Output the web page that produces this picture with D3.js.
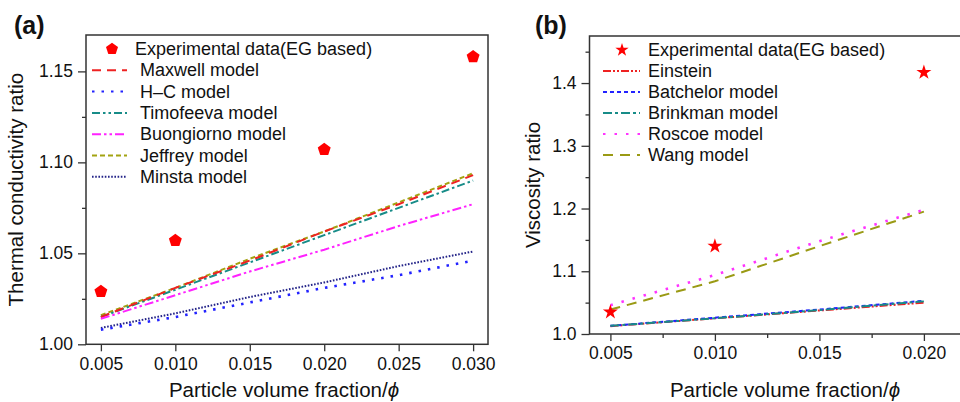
<!DOCTYPE html>
<html><head><meta charset="utf-8">
<script src="https://cdn.jsdelivr.net/npm/d3@7"></script>
<style>
html,body{margin:0;padding:0;background:#fff;overflow:hidden;}
text{font-family:"Liberation Sans",Arial,Helvetica,sans-serif;fill:#111;}
</style></head><body>
<svg id="c" width="960" height="402"></svg>
<script>
// ---------- Panel (a) data ----------
const phiA = [0.005, 0.010, 0.015, 0.020, 0.025, 0.030];
const expPhiA = [0.005, 0.010, 0.020, 0.030];
const expA = [1.029, 1.057, 1.107, 1.158];
const maxwell = [1.015, 1.031, 1.046, 1.062, 1.077, 1.093];
const hc = [1.008, 1.015, 1.023, 1.031, 1.038, 1.046];
const timofeeva = [1.015, 1.030, 1.045, 1.060, 1.075, 1.090];
const buongiorno = [1.014, 1.027, 1.040, 1.052, 1.065, 1.077];
const jeffrey = [1.016, 1.031, 1.047, 1.062, 1.078, 1.094];
const minsta = [1.009, 1.017, 1.026, 1.034, 1.043, 1.051];
const xTicksA = [0.005, 0.010, 0.015, 0.020, 0.025, 0.030];
const yTicksA = [1.00, 1.05, 1.10, 1.15];
const yMinorA = [1.025, 1.075, 1.125];

// ---------- Panel (b) data ----------
const phiB = [0.005, 0.010, 0.015, 0.020];
const expPhiB = [0.005, 0.010, 0.020];
const expB = [1.035, 1.140, 1.417];
const einstein = [1.0125, 1.025, 1.0375, 1.050];
const batchelor = [1.013, 1.026, 1.039, 1.053];
const brinkman = [1.013, 1.025, 1.038, 1.052];
const roscoe = [1.046, 1.094, 1.148, 1.198];
const wang = [1.039, 1.084, 1.140, 1.195];
const xTicksB = [0.005, 0.010, 0.015, 0.020];
const xMinorB = [0.0075, 0.0125, 0.0175];
const yTicksB = [1.0, 1.1, 1.2, 1.3, 1.4];
const yMinorB = [1.05, 1.15, 1.25, 1.35, 1.45];

const svg = d3.select("#c");
const AX = "#333";

const pentagon = {
  draw(ctx, size) {
    const r = Math.sqrt(size / 2.38);
    for (let i = 0; i < 5; i++) {
      const a = -Math.PI / 2 + i * 2 * Math.PI / 5;
      const x = r * Math.cos(a), y = r * Math.sin(a);
      if (i === 0) ctx.moveTo(x, y); else ctx.lineTo(x, y);
    }
    ctx.closePath();
  }
};

function drawPanel(cfg) {
  const g = svg.append("g");
  const x = d3.scaleLinear().domain(cfg.xDom).range(cfg.xRange);
  const y = d3.scaleLinear().domain(cfg.yDom).range(cfg.yRange);
  g.append("rect").attr("x", cfg.xRange[0]).attr("y", cfg.yRange[1])
    .attr("width", cfg.xRange[1] - cfg.xRange[0]).attr("height", cfg.yRange[0] - cfg.yRange[1])
    .attr("fill", "none").attr("stroke", AX).attr("stroke-width", 1.5);
  g.append("g").attr("transform", `translate(0,${cfg.yRange[0]})`)
    .call(d3.axisBottom(x).tickValues(cfg.xTicks).tickFormat(d3.format(".3f")).tickSize(7).tickSizeOuter(0).tickPadding(6));
  if (cfg.xMinor) g.append("g").attr("transform", `translate(0,${cfg.yRange[0]})`)
    .call(d3.axisBottom(x).tickValues(cfg.xMinor).tickFormat("").tickSize(4).tickSizeOuter(0));
  g.append("g").attr("transform", `translate(${cfg.xRange[0]},0)`)
    .call(d3.axisLeft(y).tickValues(cfg.yTicks).tickFormat(d3.format(cfg.yFmt)).tickSize(8).tickSizeOuter(0).tickPadding(5));
  g.append("g").attr("transform", `translate(${cfg.xRange[0]},0)`)
    .call(d3.axisLeft(y).tickValues(cfg.yMinor).tickFormat("").tickSize(4).tickSizeOuter(0));
  g.selectAll(".domain").remove();
  g.selectAll(".tick line").attr("stroke", AX).attr("stroke-width", 1.3);
  g.selectAll(".tick text").attr("font-size", 17.5).attr("fill", "#111")
    .style("font-family", '"Liberation Sans",Arial,sans-serif');
  const line = d3.line().x(d => x(d[0])).y(d => y(d[1]));
  cfg.series.forEach(s => {
    g.append("path").datum(cfg.phi.map((p, i) => [p, s.v[i]]))
      .attr("d", line).attr("fill", "none").attr("stroke", s.c)
      .attr("stroke-width", s.w || 2).attr("stroke-dasharray", s.d);
  });
  g.selectAll(".m").data(cfg.expPhi.map((p, i) => [p, cfg.exp[i]])).join("path")
    .attr("transform", d => `translate(${x(d[0])},${y(d[1])})`)
    .attr("d", d3.symbol().type(cfg.marker).size(cfg.mSize)).attr("fill", "#ff0000");
  const L = cfg.legend;
  g.append("path").attr("transform", `translate(${L.mx},${L.y0})`)
    .attr("d", d3.symbol().type(cfg.marker).size(cfg.lmSize)).attr("fill", "#ff0000");
  g.append("text").attr("x", L.tx0).attr("y", L.y0 + 6).attr("font-size", 18).text(cfg.expLabel);
  cfg.series.filter(s => s.name).sort((a, b) => a.order - b.order).forEach((s, i) => {
    const yy = L.y0 + L.dy * (i + 1);
    g.append("line").attr("x1", L.lx1).attr("x2", L.lx2).attr("y1", yy).attr("y2", yy)
      .attr("stroke", s.c).attr("stroke-width", 2).attr("stroke-dasharray", s.ld || s.d);
    g.append("text").attr("x", L.tx).attr("y", yy + 6).attr("font-size", 18).text(s.name);
  });
  g.append("text").attr("transform", `translate(${cfg.yTitleX},${(cfg.yRange[0] + cfg.yRange[1]) / 2}) rotate(-90)`)
    .attr("text-anchor", "middle").attr("font-size", 20.5).text(cfg.yTitle);
  const xt = g.append("text").attr("x", cfg.xTitleX).attr("y", 397).attr("text-anchor", "middle").attr("font-size", 20.5);
  xt.append("tspan").text("Particle volume fraction/");
  xt.append("tspan").attr("font-style", "italic").text("ϕ");
  g.append("text").attr("x", cfg.tagX).attr("y", 34).attr("font-size", 25).attr("font-weight", "bold").text(cfg.tag);
}

drawPanel({
  tag: "(a)", tagX: 14,
  xDom: [0.004, 0.031], xRange: [86, 488],
  yDom: [1.00, 1.17], yRange: [344.3, 35],
  xTicks: xTicksA, yTicks: yTicksA, yMinor: yMinorA, yFmt: ".2f",
  phi: phiA, expPhi: expPhiA, exp: expA,
  marker: pentagon, mSize: 110, lmSize: 95,
  expLabel: "Experimental data(EG based)",
  yTitle: "Thermal conductivity ratio", yTitleX: 23, xTitleX: 284,
  legend: {mx: 112, y0: 49, dy: 21.3, tx0: 135, tx: 140, lx1: 92, lx2: 127},
  series: [
    {name: "Jeffrey model", order: 5, v: jeffrey, c: "#a3a312", d: "5,3"},
    {name: "Timofeeva model", order: 3, v: timofeeva, c: "#178c88", d: "8,3,2.5,3", ld: "8,3,2.5,3,2.5,3"},
    {name: "Maxwell model", order: 1, v: maxwell, c: "#ee2222", d: "9,6"},
    {name: "Buongiorno model", order: 4, v: buongiorno, c: "#ff22ff", d: "9,3,2.5,3,2.5,3"},
    {name: "Minsta model", order: 6, v: minsta, c: "#232388", d: "1.6,1.6"},
    {name: "H\u2013C model", order: 2, v: hc, c: "#2222ff", d: "2.5,7", w: 2.6}
  ]
});

drawPanel({
  tag: "(b)", tagX: 535,
  xDom: [0.004, 0.022], xRange: [589.5, 965.7],
  yDom: [1.0, 1.475], yRange: [334, 36],
  xTicks: xTicksB, xMinor: xMinorB, yTicks: yTicksB, yMinor: yMinorB, yFmt: ".1f",
  phi: phiB, expPhi: expPhiB, exp: expB,
  marker: d3.symbolStar, mSize: 70, lmSize: 55,
  expLabel: "Experimental data(EG based)",
  yTitle: "Viscosity ratio", yTitleX: 540, xTitleX: 785,
  legend: {mx: 622, y0: 50, dy: 21, tx0: 648, tx: 648, lx1: 603, lx2: 640},
  series: [
    {name: "Wang model", order: 5, v: wang, c: "#9a9a14", d: "10,7"},
    {name: "Roscoe model", order: 4, v: roscoe, c: "#ff33ff", d: "2.5,9", w: 2.6},
    {name: "Einstein", order: 1, v: einstein, c: "#ee2222", d: "8,2,2,2,2,2"},
    {name: "Batchelor model", order: 2, v: batchelor, c: "#2222ff", d: "4,3"},
    {name: "Brinkman model", order: 3, v: brinkman, c: "#178c88", d: "9,3,3,3"}
  ]
});
</script></body></html>
